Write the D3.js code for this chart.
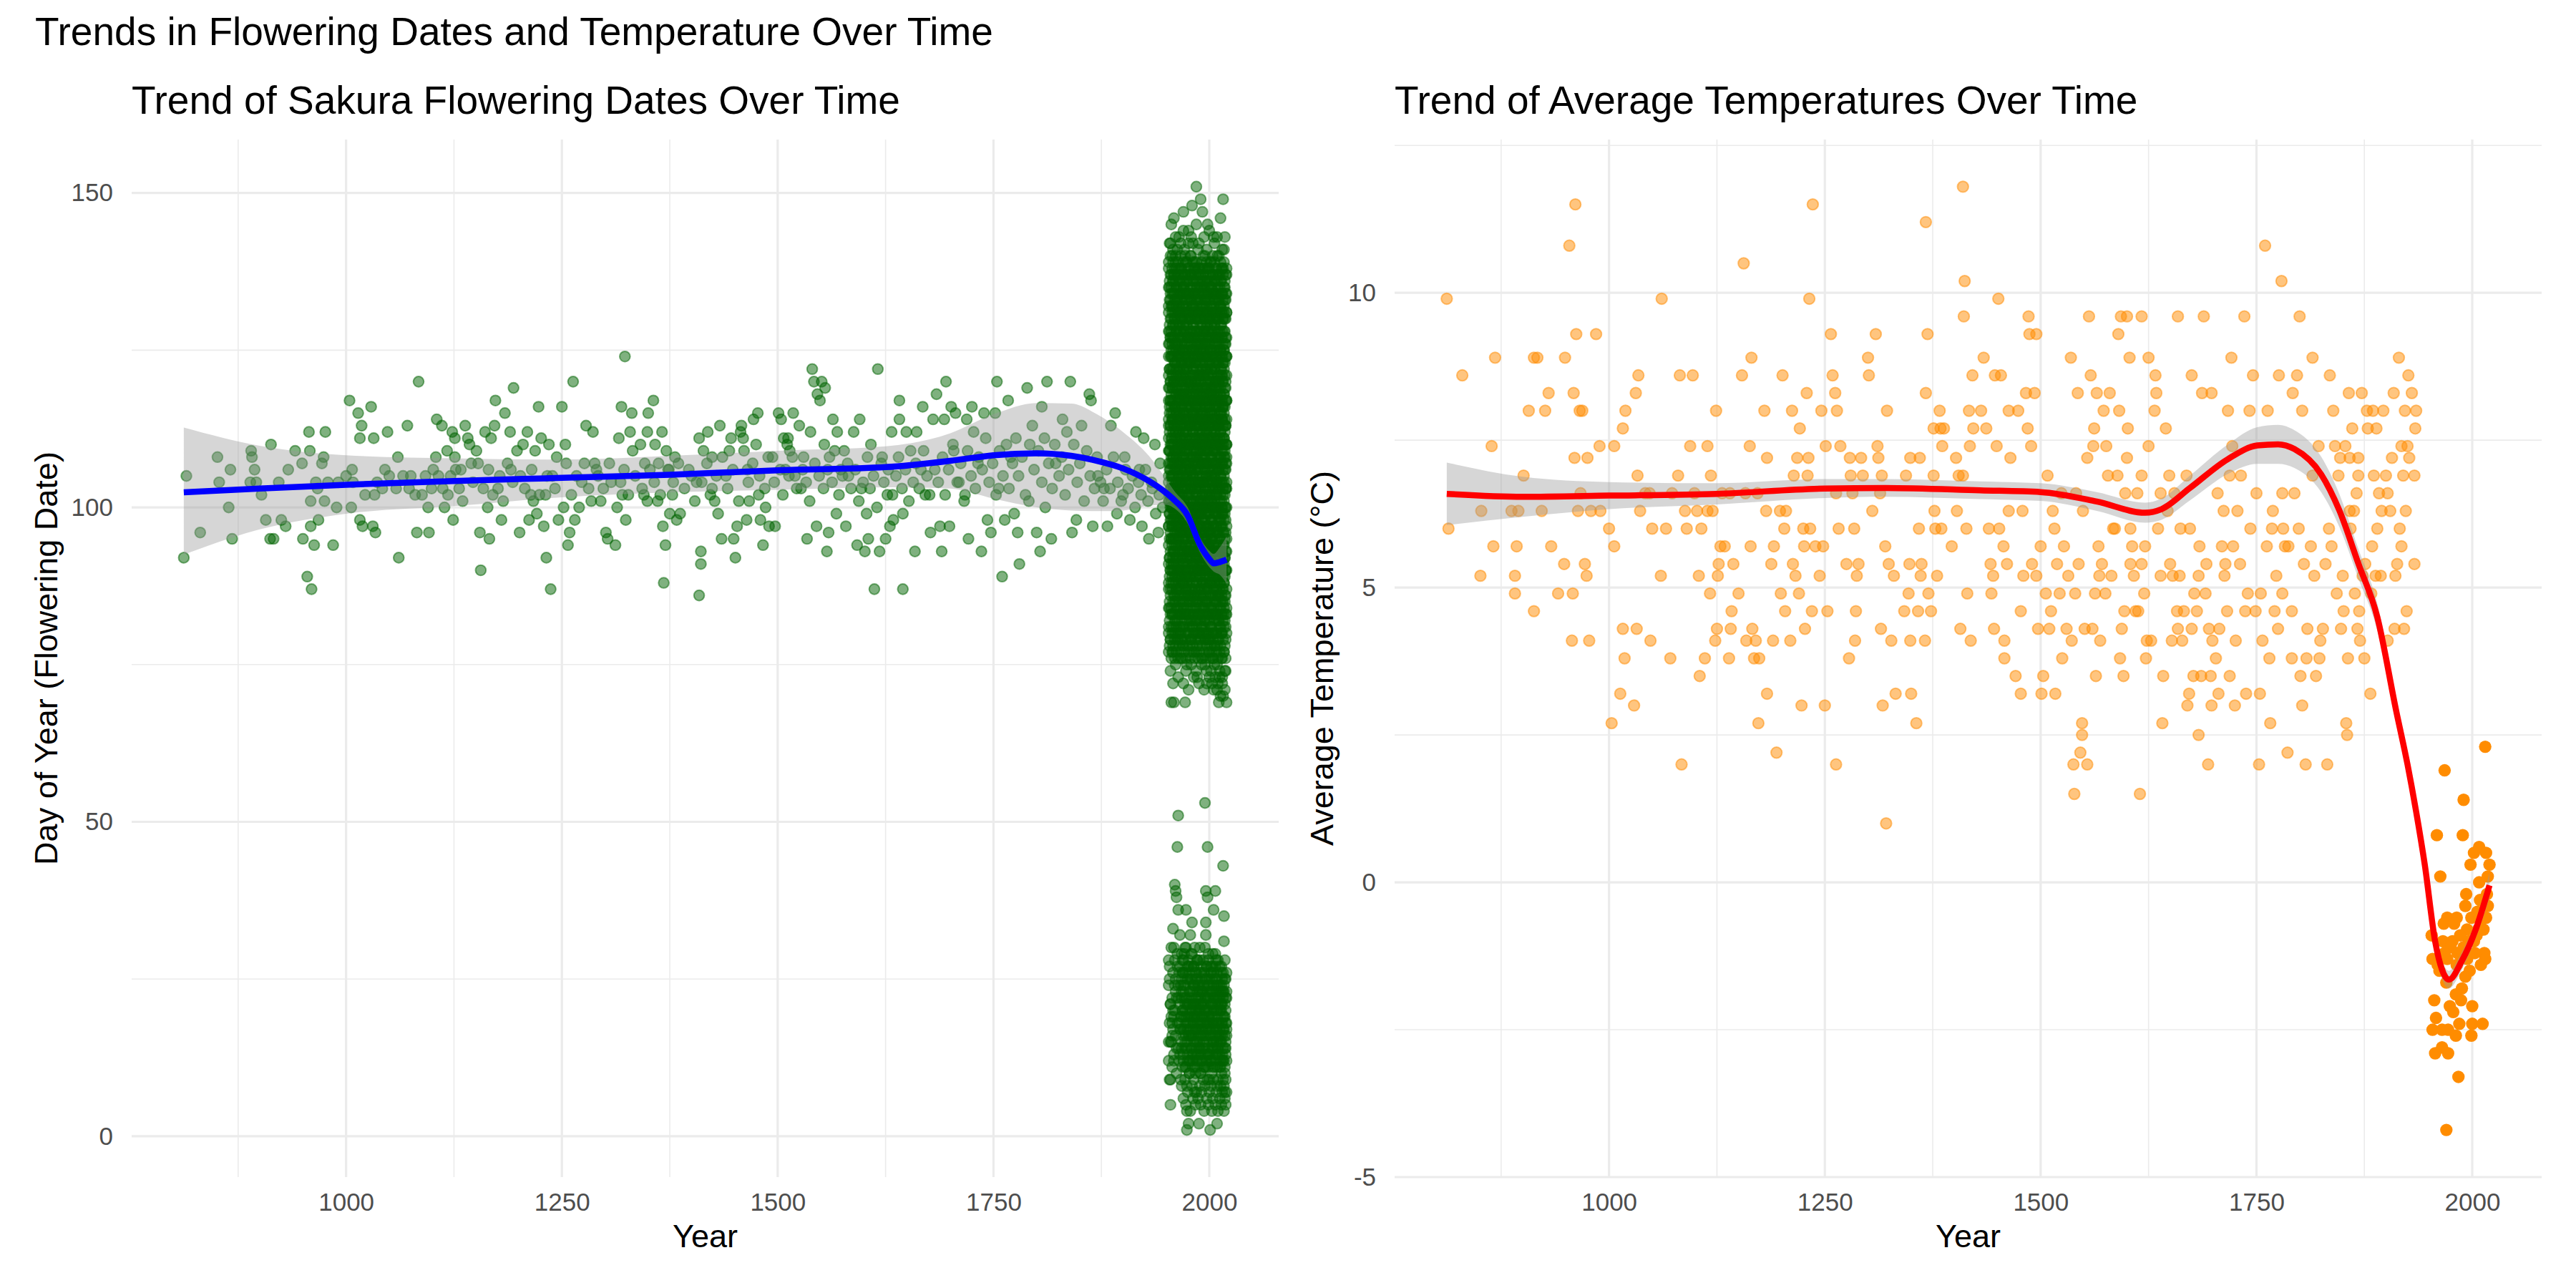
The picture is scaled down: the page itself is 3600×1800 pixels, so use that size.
<!DOCTYPE html>
<html>
<head>
<meta charset="utf-8">
<script src="https://cdn.jsdelivr.net/npm/d3@7"></script>
<style>
  body { margin: 0; background: #fff; }
  svg text { font-family: "Liberation Sans", Arial, Helvetica, sans-serif; }
</style>
</head>
<body>
<div id="chart"></div>
<script>
// ---- data ----

// Kyoto historical flowering day-of-year, [year, doy]
const bloomHist = [
  [812,92],[815,105],[831,96],[851,108],[853,104],[864,100],[866,106],[868,95],[889,104],[890,109],[891,108],[894,106],[896,104],
  [902,102],[907,98],[912,95],[913,110],[916,95],[922,104],[925,98],[930,97],[933,106],[941,109],[949,107],[950,95],[955,89],
  [957,112],[958,109],[959,101],[959,97],[960,87],[963,94],[965,104],[967,103],[968,98],[972,107],[974,108],[975,101],[976,112],
  [979,104],[985,94],[989,100],[991,104],[1000,105],[1004,117],[1006,100],[1007,106],[1014,115],[1016,98],[1016,111],[1018,113],
  [1019,97],[1029,116],[1031,97],[1032,111],[1033,102],[1034,96],[1036,104],[1042,103],[1048,112],[1050,105],[1060,108],[1061,92],
  [1066,105],[1071,113],[1073,103],[1080,102],[1082,96],[1084,120],[1092,105],[1095,100],[1096,96],[1099,103],[1104,108],[1105,114],
  [1107,105],[1111,113],[1114,100],[1117,109],[1118,102],[1123,112],[1124,98],[1126,111],[1126,108],[1127,106],[1131,103],[1133,106],
  [1138,113],[1141,111],[1143,110],[1145,107],[1151,109],[1155,96],[1156,90],[1159,103],[1161,112],[1164,100],[1165,106],[1166,95],
  [1168,111],[1172,113],[1173,117],[1176,103],[1180,98],[1182,101],[1184,115],[1187,107],[1190,112],[1191,106],[1194,119],[1198,109],
  [1201,96],[1202,105],[1205,110],[1210,112],[1212,98],[1214,102],[1217,101],[1219,109],[1221,99],[1223,116],[1226,111],[1229,97],
  [1231,102],[1232,92],[1235,110],[1237,87],[1239,105],[1244,108],[1246,98],[1250,116],[1252,100],[1254,110],[1257,94],[1259,96],
  [1263,120],[1265,98],[1267,105],[1270,100],[1276,107],[1278,113],[1281,103],[1286,112],[1288,107],[1290,106],[1295,101],[1301,96],
  [1303,95],[1307,104],[1312,94],[1314,100],[1316,111],[1319,116],[1320,102],[1322,106],[1323,124],[1324,98],[1329,112],[1331,115],
  [1332,109],[1341,110],[1345,102],[1346,107],[1349,101],[1350,115],[1349,112],[1356,117],[1358,110],[1361,101],[1362,107],[1366,112],
  [1367,97],[1368,88],[1370,94],[1371,109],[1373,106],[1375,99],[1378,102],[1381,108],[1383,98],[1387,99],[1400,105],[1404,101],
  [1409,111],[1409,86],[1411,93],[1411,91],
  [1419,112],[1414,109],[1424,108],[1424,103],[1427,101],[1431,99],[1433,113],[1435,95],[1440,105],[1444,109],[1446,111],[1449,95],
  [1451,92],[1453,97],[1457,112],[1458,113],[1460,111],[1464,98],[1465,106],[1467,101],[1472,114],[1475,110],[1477,115],[1478,102],
  [1480,98],[1483,94],[1486,100],[1490,97],[1494,108],[1497,97],[1501,115],[1504,114],[1507,111],[1509,106],[1511,110],[1512,111],
  [1514,109],[1518,115],[1520,105],[1525,113],[1527,103],[1530,108],[1534,95],[1538,112],[1540,122],[1542,120],[1545,97],[1546,118],
  [1549,117],[1551,120],[1555,119],[1554,110],[1557,93],[1559,96],[1560,108],[1564,114],[1568,99],[1569,112],[1573,106],[1577,109],
  [1579,97],[1582,105],[1588,112],[1592,94],[1595,114],[1597,103],[1601,93],[1603,99],[1605,95],[1608,110],[1612,87],[1616,122],
  [1618,93],[1621,108],[1625,95],[1627,102],[1630,97],[1632,112],[1634,98],[1641,117],[1641,114],[1645,87],[1645,99],[1649,112],
  [1654,109],[1659,93],[1661,112],[1666,106],[1668,116],[1671,102],[1677,96],[1680,114],[1684,118],[1688,97],[1690,93],[1693,114],
  [1695,120],[1699,97],[1701,116],[1704,109],[1706,115],[1710,104],[1717,102],[1719,114],[1721,95],[1725,116],[1727,112],[1732,107],
  [1736,93],[1739,115],[1743,98],[1747,96],[1752,115],[1754,120],[1756,103],[1760,89],[1763,98],[1767,117],[1770,108],[1774,99],
  [1778,96],[1780,91],[1789,119],[1791,101],[1795,113],[1800,96],[1804,93],[1806,116],[1810,100],[1812,120],[1817,95],[1822,107],
  [1830,114],[1835,112],[1839,120],[1841,96],[1846,98],[1852,113],[1861,118],[1863,117],[1865,97],[1871,105],[1878,103],[1882,97],
  [1886,113],[1891,115],[1893,99],[1900,102],[1902,108],[1908,98],[1915,112],[1919,106],[1922,97],[1924,111],[1930,95],[1934,103],
  [1937,110],[1941,96],[1943,107],
  [1008,104],[1022,102],[1045,106],[1058,103],[1075,105],[1088,102],[1101,106],[1112,103],[1121,105],[1135,101],[1147,104],[1153,107],
  [1170,102],[1178,105],[1193,104],[1207,103],[1215,106],[1224,102],[1233,105],[1242,103],[1255,107],[1261,102],[1273,104],[1284,101],
  [1292,105],[1298,103],[1305,107],[1318,104],[1327,102],[1335,105],[1343,103],[1352,106],[1357,104],[1364,102],[1374,106],[1379,104],
  [1385,107],[1392,103],[1397,106],[1406,104],
  [1412,104],[1418,107],[1422,102],[1429,105],[1436,108],[1442,103],[1448,106],[1455,101],[1461,109],[1466,104],[1471,107],[1479,105],
  [1485,103],[1489,108],[1496,104],[1503,106],[1506,102],[1513,105],[1517,108],[1522,103],[1529,106],[1533,104],[1537,101],[1543,107],
  [1548,105],[1553,103],[1558,106],[1563,104],[1566,109],[1571,102],[1575,105],[1581,107],[1585,103],[1590,106],[1594,101],[1599,104],
  [1604,108],[1607,103],[1611,105],[1615,100],[1620,107],[1623,104],[1628,106],[1633,102],[1637,105],[1640,108],[1644,103],[1648,106],
  [1652,101],[1657,104],[1660,107],[1664,103],[1669,109],[1673,105],[1676,102],[1682,106],[1686,104],[1691,108],[1694,102],[1698,106],
  [1703,110],[1708,104],[1712,107],[1716,101],[1720,109],[1724,105],[1729,103],[1733,108],[1737,106],[1741,111],[1745,104],[1749,107],
  [1753,102],[1757,109],[1761,105],[1765,110],[1768,103],[1772,107],[1776,111],[1779,105],[1783,108],[1787,102],[1792,110],[1797,106],
  [1802,109],[1806,104],[1809,111],[1814,107],[1818,103],[1821,110],[1826,105],[1829,108],[1833,102],[1837,106],[1843,110],[1847,104],
  [1850,107],[1855,101],[1858,109],[1862,105],[1867,103],[1870,108],[1874,104],[1877,101],[1881,106],[1885,103],[1889,108],[1894,104],
  [1898,101],[1903,106],[1906,103],[1911,105],[1914,100],[1918,104],[1921,102],[1926,106],[1929,101],[1933,104],[1938,99],[1942,102],
  [1946,100]
];

// modern multi-site flowering day-of-year, one row per year: [year, doy, doy, ...]
const bloomModern = [
  [1953,97,105,113,119,126,132,88,139,109,81,28,15],
  [1954,92,101,109,115,122,128,135,84,99,142,25,9],
  [1955,90,98,106,113,120,127,133,79,87,117,21,15,5],
  [1956,95,103,110,116,124,130,137,69,100,145,19],
  [1957,89,97,105,111,119,126,132,140,83,114,18,16],
  [1958,93,100,108,114,121,129,136,77,91,103,20,33],
  [1959,91,99,107,113,120,127,134,69,95,146,30,12],
  [1960,94,102,109,116,123,130,138,85,98,111,24,40],
  [1961,88,96,104,112,118,125,131,139,80,107,23,39],
  [1962,92,100,108,115,122,128,135,87,97,120,38,14],
  [1963,90,98,106,113,119,126,133,141,84,102,46,27],
  [1964,95,103,110,117,124,131,137,79,89,114,51,36,22],
  [1965,89,97,105,112,118,125,132,86,101,143,18,26],
  [1966,93,101,109,115,122,129,136,83,96,106,32,13],
  [1967,91,99,107,114,120,127,134,140,81,110,17,24],
  [1968,94,102,110,116,123,130,138,88,99,104,22,29],
  [1969,88,96,104,111,118,125,131,78,92,121,20,11,26],
  [1970,92,100,108,114,121,128,135,85,97,147,16,23],
  [1971,90,98,106,113,119,126,133,141,83,109,29,19],
  [1972,95,103,110,117,124,131,137,69,89,115,30,14,21],
  [1973,89,97,105,112,118,125,132,87,100,139,36,18],
  [1974,93,101,109,115,122,129,136,75,96,107,21,15,8,4,1],
  [1975,91,99,107,114,120,127,134,84,92,123,25,17],
  [1976,94,102,110,116,123,130,138,86,98,144,2,19,28],
  [1977,88,96,104,111,118,125,131,81,93,113,23,12],
  [1978,92,100,108,114,121,128,135,140,85,105,32,20],
  [1979,90,98,106,113,119,126,133,79,95,117,16,27],
  [1980,95,103,110,117,124,131,137,87,99,148,34,22,13],
  [1981,89,97,105,112,118,125,132,82,91,142,18,24],
  [1982,93,101,109,115,122,129,136,77,96,119,21,15],
  [1983,91,99,107,114,120,127,134,139,86,103,30,7,19],
  [1984,94,102,110,116,123,130,138,84,98,108,25,17],
  [1985,88,96,104,111,118,125,131,80,92,151,20,12],
  [1986,92,100,108,114,121,128,135,73,97,115,23,28],
  [1987,90,98,106,113,119,126,133,141,85,101,16,21],
  [1988,95,103,110,117,124,131,137,83,90,112,20,2,14],
  [1989,89,97,105,112,118,125,132,78,94,121,26,18],
  [1990,93,101,109,115,122,129,136,86,99,149,22,13],
  [1991,91,99,107,114,120,127,134,81,96,104,19,25],
  [1992,94,102,110,116,123,130,138,76,88,147,17,23],
  [1993,88,96,104,111,118,125,131,140,84,107,21,15],
  [1994,92,100,108,114,121,128,135,82,95,113,24,11],
  [1995,90,98,106,113,119,126,133,75,87,110,53,20,30],
  [1996,95,103,110,117,124,131,137,80,91,122,39,34,32,16],
  [1997,89,97,105,112,118,125,132,72,85,100,18,27],
  [1998,93,101,109,115,122,129,136,79,94,145,46,38,22],
  [1999,91,99,107,114,120,127,134,83,97,105,19,13],
  [2000,94,102,110,116,123,130,138,77,88,115,25,12],
  [2001,88,96,104,111,118,125,131,139,81,92,1,17],
  [2002,92,100,108,114,121,128,135,74,86,119,21,26],
  [2003,90,98,106,113,119,126,133,80,95,102,15,23],
  [2004,95,103,110,117,124,131,137,76,89,109,18,29],
  [2005,89,97,105,112,118,125,132,71,84,143,36,20],
  [2006,93,101,109,115,122,129,136,78,91,111,14,22],
  [2007,91,99,107,114,120,127,134,73,85,117,39,29,27],
  [2008,94,102,110,116,123,130,138,80,87,104,17,24],
  [2009,88,96,104,111,118,125,131,75,83,140,2,19],
  [2010,92,100,108,114,121,128,135,72,86,113,21,13],
  [2011,90,98,106,113,119,126,133,69,82,120,16,22],
  [2012,95,103,110,117,124,131,137,74,88,107,20,11],
  [2013,89,97,105,112,118,125,132,70,84,146,15,23],
  [2014,93,101,109,115,122,129,136,76,80,99,18,26],
  [2015,91,99,107,114,120,127,134,73,85,116,21,12],
  [2016,94,102,110,116,123,130,138,70,87,149,43,23],
  [2017,88,96,104,111,118,125,131,77,83,141,35,31],
  [2018,92,100,108,114,121,128,135,71,86,112,25,19,10,7],
  [2019,90,98,106,113,119,126,133,74,81,103,14,20],
  [2020,95,103,110,117,124,131,137,69,84,108,22,17]
];

// the remaining (overplotted) sites of the same years, [year, doy, doy, ...]
const bloomModernCore = [
  [1953,77,80,84,87,91,94,97,101,104,107,111,114,117,121,124,128,131,135,138,12,24],
  [1954,78,82,85,89,92,95,99,102,106,109,112,116,119,122,126,129,133,136,18,27],
  [1955,79,83,86,90,93,96,100,103,107,110,113,117,120,124,127,130,134,137,140,9,21],
  [1956,76,81,84,88,91,95,98,101,105,108,111,115,118,122,125,128,132,135,15,30],
  [1957,77,80,83,87,90,94,97,100,104,107,110,114,117,121,124,127,131,134,138,22,11],
  [1958,78,81,85,88,92,95,98,102,105,108,112,115,119,122,125,129,132,136,139,26,17],
  [1959,80,83,86,90,93,97,100,103,107,110,114,117,120,124,127,131,134,137,13,19],
  [1960,76,79,82,86,89,93,96,99,103,106,109,113,116,120,123,126,130,133,137,20,28],
  [1961,78,82,85,89,92,95,99,102,106,109,112,116,119,123,126,129,133,136,140,16,25],
  [1962,77,81,84,87,91,94,98,101,104,108,111,115,118,121,125,128,132,135,138,10,22],
  [1963,79,82,86,89,92,96,99,103,106,109,113,116,120,123,126,130,133,137,18,29],
  [1964,76,80,83,87,90,93,97,100,104,107,110,114,117,121,124,127,131,134,139,14,24],
  [1965,78,81,85,88,91,95,98,102,105,108,112,115,118,122,125,129,132,136,21,12],
  [1966,80,83,87,90,94,97,100,104,107,111,114,117,121,124,128,131,134,138,27,17],
  [1967,77,80,84,87,90,94,97,101,104,107,111,114,118,121,124,128,131,135,138,19,9],
  [1968,79,82,85,89,92,96,99,102,106,109,113,116,119,123,126,130,133,136,23,15],
  [1969,76,79,83,86,90,93,96,100,103,107,110,113,117,120,124,127,130,134,137,28,20],
  [1970,78,81,84,88,91,95,98,101,105,108,112,115,118,122,125,129,132,135,139,13,26],
  [1971,77,81,84,88,91,94,98,101,105,108,111,115,118,122,125,128,132,135,17,22],
  [1972,79,83,86,89,93,96,100,103,106,110,113,117,120,123,127,130,134,137,140,24,11],
  [1973,76,80,83,87,90,94,97,100,104,107,111,114,117,121,124,128,131,134,19,30],
  [1974,78,82,85,88,92,95,99,102,105,109,112,116,119,122,126,129,133,136,139,25,14],
  [1975,80,83,86,90,93,97,100,103,107,110,114,117,120,124,127,131,134,138,12,21],
  [1976,77,80,83,87,90,93,97,100,104,107,110,114,117,120,124,127,131,134,137,16,27],
  [1977,78,82,85,89,92,96,99,102,106,109,113,116,119,123,126,130,133,136,22,10],
  [1978,76,79,83,86,89,93,96,100,103,106,110,113,117,120,123,127,130,134,137,18,25],
  [1979,79,82,86,89,93,96,99,103,106,110,113,116,120,123,127,130,133,137,140,14,29],
  [1980,77,81,84,87,91,94,98,101,104,108,111,115,118,121,125,128,132,135,20,16],
  [1981,78,81,85,88,91,95,98,102,105,108,112,115,119,122,125,129,132,136,139,23,12],
  [1982,80,83,86,90,93,97,100,104,107,110,114,117,121,124,127,131,134,138,27,19],
  [1983,76,80,83,87,90,93,97,100,104,107,111,114,117,121,124,128,131,134,138,11,24],
  [1984,79,82,85,89,92,96,99,103,106,109,113,116,120,123,126,130,133,137,17,21],
  [1985,77,81,84,88,91,94,98,101,105,108,111,115,118,122,125,128,132,135,139,26,14],
  [1986,78,82,85,89,92,95,99,102,106,109,113,116,119,123,126,130,133,136,19,28],
  [1987,76,79,83,86,90,93,96,100,103,107,110,113,117,120,124,127,130,134,137,13,22],
  [1988,80,83,87,90,93,97,100,104,107,110,114,117,121,124,127,131,134,138,24,17],
  [1989,77,80,84,87,91,94,97,101,104,108,111,114,118,121,125,128,131,135,138,15,30],
  [1990,79,82,86,89,92,96,99,103,106,109,113,116,120,123,126,130,133,137,21,10],
  [1991,76,80,83,87,90,94,97,100,104,107,111,114,117,121,124,128,131,135,139,18,26],
  [1992,78,81,85,88,92,95,98,102,105,109,112,115,119,122,126,129,132,136,12,23],
  [1993,80,83,86,90,93,97,100,104,107,110,114,117,121,124,127,131,134,137,28,16],
  [1994,77,81,84,87,91,94,98,101,104,108,111,115,118,121,125,128,132,135,138,20,14],
  [1995,79,82,85,89,92,96,99,102,106,109,113,116,119,123,126,130,133,136,140,25,19],
  [1996,76,79,83,86,90,93,96,100,103,107,110,113,117,120,124,127,130,134,22,11],
  [1997,78,82,85,88,92,95,99,102,105,109,112,116,119,122,126,129,133,136,139,17,27],
  [1998,80,83,87,90,94,97,100,104,107,111,114,117,121,124,128,131,134,138,13,24],
  [1999,77,80,84,87,90,94,97,101,104,107,111,114,118,121,124,128,131,135,138,29,20],
  [2000,79,82,85,89,92,96,99,102,106,109,113,116,119,123,126,130,133,136,16,9],
  [2001,76,79,83,86,90,93,96,100,103,107,110,113,117,120,124,127,130,134,137,23,18],
  [2002,78,81,84,88,91,95,98,101,105,108,112,115,118,122,125,129,132,135,139,12,26],
  [2003,77,81,84,88,91,94,98,101,105,108,111,115,118,122,125,128,132,135,19,21],
  [2004,79,83,86,89,93,96,100,103,106,110,113,117,120,123,127,130,134,137,140,27,14],
  [2005,76,80,83,87,90,94,97,100,104,107,111,114,117,121,124,128,131,134,15,24],
  [2006,78,82,85,88,92,95,99,102,105,109,112,116,119,122,126,129,133,136,139,20,11],
  [2007,80,83,86,90,93,97,100,103,107,110,114,117,120,124,127,131,134,138,17,25],
  [2008,77,80,83,87,90,93,97,100,104,107,110,114,117,120,124,127,131,134,137,22,13],
  [2009,78,82,85,89,92,96,99,102,106,109,113,116,119,123,126,130,133,136,26,16],
  [2010,76,79,83,86,89,93,96,100,103,106,110,113,117,120,123,127,130,134,137,14,28],
  [2011,79,82,86,89,93,96,99,103,106,110,113,116,120,123,127,130,133,137,140,18,23],
  [2012,77,81,84,87,91,94,98,101,104,108,111,115,118,121,125,128,132,135,24,15],
  [2013,78,81,85,88,91,95,98,102,105,108,112,115,119,122,125,129,132,136,139,11,20],
  [2014,80,83,86,90,93,97,100,104,107,110,114,117,121,124,127,131,134,138,21,27],
  [2015,76,80,83,87,90,93,97,100,104,107,111,114,117,121,124,128,131,134,138,16,25],
  [2016,79,82,85,89,92,96,99,103,106,109,113,116,120,123,126,130,133,137,19,12],
  [2017,77,81,84,88,91,94,98,101,105,108,111,115,118,122,125,128,132,135,139,23,17],
  [2018,78,82,85,89,92,95,99,102,106,109,113,116,119,123,126,130,133,136,28,14],
  [2019,76,79,83,86,90,93,96,100,103,107,110,113,117,120,124,127,130,134,137,13,22],
  [2020,80,83,87,90,93,97,100,104,107,110,114,117,121,124,127,131,134,138,18,26]
];

// ragged edges of the main block and the dense part of the early (southern) group, [year, doy, ...]
const bloomModernEdge = [
  [1955,74,142],[1958,72,141],[1961,75,143],[1964,73],[1967,76,142],[1970,72,144],[1973,74],[1976,71,142],
  [1979,75,143],[1982,73],[1985,74,145],[1988,72,142],[1991,75],[1994,71,143],[1997,74,141],[2000,73,144],
  [2003,72],[2006,75,142],[2009,71,143],[2012,73],[2015,72,141],[2018,74,143],
  [1968,8,14,19,25],[1970,6,12,17,24,28],[1972,9,15,20,26],[1973,5,11,16,22],[1975,7,13,18,27],[1977,10,16,21,26],
  [1978,4,12,17,23],[1980,8,14,19,25,29],[1981,6,11,16,21],[1982,9,13,18,24,27],[1984,5,10,15,20,26],[1985,7,13,17,22],
  [1986,11,15,19,25],[1987,6,12,18,24],[1989,8,14,20,23,28],[1990,5,10,16,21],[1991,7,12,17,23,27],[1993,9,14,19,24],
  [1994,4,11,16,21,26],[1995,8,13,18,22],[1997,6,12,15,20,25],[1998,9,14,18,23],[1999,5,11,17,22,28],[2000,7,13,19,24],
  [2002,8,12,16,21,27],[2003,4,10,14,19,25],[2004,6,11,17,23],[2005,9,15,18,22,26],[2007,5,12,16,21],[2008,7,13,18,23,28],
  [2009,8,11,15,20,25],[2010,4,9,14,18,24],[2012,6,13,17,22,27],[2013,8,12,16,21],[2014,5,10,15,20,24],[2015,7,13,18,23],
  [2016,9,14,17,22,26],[2017,4,8,12,19,24],[2018,6,11,16,21],[2019,5,9,15,18,25],[2020,7,12,16,23]
];

// smooth fit for flowering dates (year, fit, lower, upper)
const bloomFitYear = [812, 900, 1000, 1125, 1250, 1375, 1500, 1625, 1700, 1750, 1800, 1840, 1870, 1900, 1930, 1950, 1960, 1975, 1989, 2000, 2005, 2012, 2020];
const bloomFit     = [102.4, 103.0, 103.6, 104.2, 104.7, 105.2, 105.9, 106.4, 107.4, 108.3, 108.6, 108.2, 107.4, 106.2, 104.2, 102.3, 101.1, 98.7, 94.1, 91.8, 91.1, 91.3, 91.7];
const bloomLo      = [92.5, 96.5, 99.0, 100.2, 101.6, 102.4, 102.8, 103.2, 103.0, 101.4, 100.0, 99.5, 99.4, 99.5, 100.3, 100.4, 99.8, 97.4, 92.9, 90.5, 89.8, 89.3, 87.9];
const bloomHi      = [112.7, 109.8, 108.3, 107.8, 107.6, 108.2, 109.0, 109.7, 111.8, 114.8, 116.6, 116.5, 114.8, 112.0, 108.2, 104.5, 102.5, 100.0, 95.3, 93.1, 92.6, 93.6, 95.4];

// historical average temperature, [year, °C]
const tempHist = [
  [812,9.9],[814,6.0],[830,8.6],[851,5.2],[852,6.3],[864,7.4],[866,5.7],[868,8.9],[887,6.3],[891,5.2],[891,4.9],[893,5.7],[895,6.3],
  [901,6.9],[907,8.0],[913,4.6],[913,8.9],[917,8.9],[922,6.3],[926,8.0],[930,8.3],[933,5.7],[941,4.9],[948,5.4],[949,8.9],[954,10.8],
  [957,4.1],[958,4.9],[959,8.3],[960,7.2],[961,11.5],[962,9.3],[964,6.3],[966,8.0],[967,6.6],[969,8.0],[972,5.4],[974,5.2],[975,7.2],
  [977,4.1],[979,6.3],[985,9.3],[989,7.4],[990,6.3],[1000,6.0],[1003,2.7],[1006,7.4],[1006,5.7],[1013,3.2],[1016,4.3],[1016,7.7],
  [1018,3.8],[1019,8.0],[1029,3.0],[1031,8.3],[1032,4.3],[1033,6.9],[1034,8.6],[1036,6.3],[1042,6.6],[1047,6.6],[1048,4.1],[1050,6.0],
  [1060,5.2],[1061,9.9],[1066,6.0],[1071,3.8],[1073,6.6],[1080,6.9],[1082,8.6],[1084,2.0],[1088,6.3],[1090,6.0],[1094,7.4],[1097,8.6],
  [1099,6.6],[1102,6.3],[1104,5.2],[1105,3.5],[1107,6.0],[1111,3.8],[1114,7.4],[1114,6.3],[1117,4.9],[1118,6.9],[1120,6.3],[1123,4.1],
  [1124,8.0],[1125,4.3],[1126,5.2],[1127,5.4],[1129,5.7],[1131,6.6],[1134,5.7],[1139,3.8],[1140,6.6],[1141,4.3],[1142,4.6],[1144,5.4],
  [1150,4.9],[1154,8.6],[1156,10.5],[1158,6.6],[1159,4.1],[1163,7.4],[1164,5.7],[1165,8.9],[1166,4.3],[1168,3.8],[1170,4.1],[1172,6.6],
  [1173,2.7],[1174,3.8],[1180,8.0],[1182,6.3],[1183,7.2],[1183,3.2],[1188,5.4],[1190,4.1],[1191,5.7],[1194,2.2],[1198,6.3],[1199,4.9],
  [1201,8.6],[1203,6.0],[1204,4.6],[1205,6.3],[1210,4.1],[1212,8.0],[1213,5.4],[1214,6.9],[1216,5.2],[1218,7.2],[1220,4.9],[1221,7.7],
  [1223,3.0],[1225,6.0],[1226,5.7],[1227,4.3],[1229,8.3],[1230,6.9],[1231,7.2],[1232,9.9],[1233,6.0],[1235,4.6],[1236,11.5],[1239,5.7],
  [1244,5.2],[1246,8.0],[1248,5.7],[1250,3.0],[1251,7.4],[1253,4.6],[1257,9.3],[1259,8.6],[1262,8.3],[1263,2.0],[1263,6.6],[1264,8.0],
  [1266,6.0],[1268,7.4],[1275,5.4],[1278,3.8],[1279,7.2],[1280,6.9],[1282,6.6],[1284,6.0],[1285,4.1],[1286,4.6],[1287,5.2],[1289,5.4],
  [1292,7.2],[1294,6.9],[1300,8.9],[1301,8.6],[1305,6.3],[1309,9.3],[1311,7.4],[1312,7.2],[1315,4.3],[1314,6.6],[1316,6.9],[1317,3.0],
  [1320,5.7],[1321,1.0],[1322,8.0],[1324,5.4],[1327,4.1],[1330,5.2],[1332,3.2],[1342,4.6],[1344,6.9],[1347,4.9],[1348,5.4],[1349,4.1],
  [1349,7.2],[1350,3.2],[1356,2.7],[1358,4.6],[1359,6.0],[1360,7.2],[1361,5.2],[1362,5.4],[1366,4.1],[1367,8.3],[1367,11.2],[1369,9.3],
  [1370,4.9],[1373,4.6],[1376,7.7],[1376,6.9],[1377,6.3],[1378,6.0],[1380,5.2],[1383,8.0],[1384,7.7],[1385,6.0],[1386,7.4],[1388,7.7],
  [1397,5.7],[1402,7.2],[1403,6.3],[1405,6.9],[1407,4.3],[1410,11.8],[1410,6.9],[1411,9.6],[1412,10.2],[1414,6.0],[1415,4.9],[1417,8.0],
  [1418,7.4],[1419,4.1],[1421,8.6],[1422,7.7],
  [1431,8.0],[1434,8.9],[1437,7.7],[1440,6.0],[1442,5.4],[1443,4.9],[1445,5.2],[1446,4.3],[1447,8.6],[1449,7.4],[1451,9.9],[1452,6.0],
  [1454,8.6],[1457,5.7],[1458,4.1],[1458,3.8],[1461,5.4],[1463,8.0],[1463,6.3],[1465,7.2],[1471,3.5],[1474,8.0],[1477,3.2],[1477,4.6],
  [1479,6.3],[1480,5.2],[1483,8.3],[1485,7.7],[1486,9.6],[1487,9.3],[1489,7.4],[1490,5.4],[1493,8.3],[1495,9.3],[1495,5.2],[1497,4.3],
  [1500,5.7],[1501,3.2],[1503,3.5],[1506,4.9],[1508,6.9],[1510,4.3],[1512,4.6],[1514,6.3],[1516,6.0],[1517,3.2],[1519,5.4],[1522,4.9],
  [1524,6.6],[1525,3.8],[1527,5.7],[1530,4.3],[1532,5.2],[1535,8.9],[1536,4.1],[1538,2.0],[1539,1.5],[1540,4.9],[1541,6.6],[1543,8.3],
  [1544,5.4],[1546,2.2],[1548,2.7],[1548,2.5],[1549,6.3],[1551,4.3],[1554,2.0],[1554,7.2],[1556,9.6],[1558,8.6],[1560,4.3],[1561,7.4],
  [1562,7.7],[1563,4.9],[1564,3.5],[1565,8.3],[1567,5.7],[1568,5.2],[1569,4.1],[1571,5.4],[1573,8.0],[1575,4.9],[1576,7.4],[1578,6.9],
  [1580,8.3],[1582,5.2],[1584,6.0],[1586,6.0],[1589,6.9],[1590,9.3],[1591,8.0],[1592,3.8],[1593,9.6],[1594,4.3],[1596,3.5],[1597,4.6],
  [1598,6.6],[1600,9.6],[1600,7.2],[1601,7.7],[1603,8.9],[1604,6.0],[1604,5.4],[1606,5.7],[1608,5.2],[1610,4.6],[1612,6.6],[1613,4.6],
  [1615,1.5],[1617,9.6],[1617,6.9],[1617,5.4],[1620,4.9],[1621,5.7],[1622,3.8],[1623,4.1],[1625,8.9],[1625,7.4],[1628,4.1],[1632,8.0],
  [1633,8.6],[1634,8.3],[1636,6.0],[1639,5.2],[1639,6.6],[1641,2.7],[1642,3.5],[1645,7.7],[1647,6.3],[1649,6.9],[1650,5.4],[1652,4.1],
  [1653,5.2],[1655,6.6],[1658,4.6],[1659,9.6],[1659,4.3],[1661,5.2],[1662,6.0],[1664,4.1],[1666,4.6],[1669,6.9],[1670,3.0],[1672,3.2],
  [1673,6.0],[1675,4.3],[1675,8.6],[1677,3.5],[1678,4.9],[1681,4.6],[1683,5.2],[1683,2.5],[1684,5.7],[1686,3.5],[1687,8.3],[1689,9.6],
  [1691,4.9],[1692,5.4],[1694,2.0],[1695,4.3],[1697,3.5],[1698,3.0],[1698,8.3],[1699,4.1],[1703,3.8],[1705,6.6],[1706,3.2],[1707,4.3],
  [1710,5.7],[1712,6.3],[1713,5.2],[1714,5.4],[1716,4.6],[1717,8.0],[1719,6.9],[1719,3.5],[1721,8.9],[1722,7.4],[1723,5.7],[1725,3.0],
  [1726,4.1],[1728,6.3],[1731,5.4],[1732,6.9],[1736,9.6],[1737,4.6],[1738,3.2],[1740,4.9],[1742,8.0],[1743,6.0],[1746,8.6],[1749,4.6],
  [1750,6.6],[1754,3.2],[1753,2.0],[1755,4.9],[1757,4.1],[1760,10.8],[1762,5.7],[1763,8.0],[1765,3.8],[1766,2.7],[1768,6.0],[1769,6.3],
  [1771,4.6],[1773,5.2],[1775,4.3],[1776,8.6],[1779,10.2],[1780,4.9],[1780,6.6],[1781,6.0],[1783,5.7],[1786,2.2],[1787,5.7],[1791,3.8],
  [1791,4.6],[1792,8.3],[1794,6.6],[1797,8.6],[1799,6.0],[1800,9.6],[1801,3.5],[1803,3.0],[1803,8.0],[1805,5.4],[1807,2.0],[1808,3.8],
  [1809,4.3],[1813,5.7],[1815,8.9],[1815,6.9],[1817,5.2],[1819,3.5],[1822,7.4],[1823,3.8],[1824,4.1],[1827,4.3],[1830,5.4],[1832,2.0],
  [1834,6.0],[1835,8.6],[1837,5.7],[1839,8.0],[1841,7.4],[1843,4.9],[1845,6.9],[1847,7.2],[1848,4.3],[1850,5.2],[1851,4.6],[1853,7.4],
  [1854,2.7],[1855,2.5],[1856,3.8],[1857,8.3],[1858,6.3],[1858,7.2],[1859,6.0],[1861,7.7],[1863,6.3],[1864,4.9],[1866,6.6],[1867,4.3],
  [1868,6.9],[1868,7.2],[1869,4.6],[1870,4.1],[1872,8.3],[1873,5.2],[1875,3.8],[1876,5.4],[1878,8.0],[1879,7.7],[1882,3.2],[1883,4.9],
  [1884,5.7],[1885,8.0],[1886,6.9],[1888,5.2],[1889,7.7],[1890,6.0],[1892,6.6],[1894,5.2],[1895,6.3],[1897,8.0],[1900,6.9],[1902,4.1],
  [1902,6.6],[1905,6.3],[1907,7.2],[1909,8.3],[1910,4.3],[1911,5.2],[1913,5.4],[1915,8.9],[1916,6.0],[1918,7.4],[1918,5.7],[1920,6.9],
  [1921,4.3],[1922,8.0],[1923,6.3],[1924,4.6],[1925,7.4],[1926,8.6],[1927,7.2],[1930,8.3],[1933,5.4],[1934,7.7],[1935,8.0],[1933,6.9]
];

// modern average temperature (heavily overplotted), [year, °C]
const tempModern = [
  [1968,1.9],[1990,1.4],[1959,0.8],[1989,0.8],[2008,0.6],[2016,0.5],[2002,0.5],[1998,0.3],[1963,0.1],[2008,0.0],[2018,0.1],[2015,2.3],
  [1993,-0.2],[1992,-0.4],[2018,-0.4],[2011,-0.6],[1971,-0.6],[1982,-0.6],[1967,-0.7],[1994,-0.8],[2007,-0.8],[1953,-0.9],[1966,-1.0],
  [1977,-1.0],[1996,-1.0],[2005,-0.9],[2014,-1.2],[1954,-1.3],[1960,-1.4],[1971,-1.3],[1982,-1.4],[1994,-1.3],[1997,-1.5],[2010,-1.4],
  [2015,-1.3],[1970,-1.7],[1988,-1.8],[1981,-1.9],[1956,-2.0],[1974,-2.1],[2000,-2.1],[1958,-2.3],[1954,-2.5],[1965,-2.5],[1972,-2.5],
  [1985,-2.4],[1981,-2.6],[1999,-2.6],[2000,-2.4],[2012,-2.4],[1957,-2.9],[1965,-2.8],[1972,-2.9],[1984,-3.3],[1970,-4.2],
  [1975,-1.1],[1979,-0.7],[1983,-1.2],[1986,-0.9],[1990,-1.1],[1992,-1.6],[1995,-1.2],[1999,-0.6],[2002,-1.0],[2006,-0.5],[2009,-0.3],
  [2013,-0.8],[2017,-0.2],[2020,0.3],[1962,-1.5],[1968,-1.2],[1978,-2.2],[1987,-2.0],[2003,-1.2],[2016,-0.6]
];

// smooth fit for temperature (year, fit, lower, upper)
const tempFitYear = [812, 900, 1000, 1125, 1250, 1320, 1430, 1500, 1565, 1621, 1640, 1673, 1717, 1751, 1775, 1794, 1825, 1846, 1868, 1890, 1912, 1925, 1935, 1945, 1957, 1973, 1988, 2004, 2020];
const tempFit = [6.59, 6.54, 6.56, 6.59, 6.68, 6.69, 6.65, 6.62, 6.46, 6.27, 6.33, 6.69, 7.18, 7.41, 7.43, 7.35, 6.92, 6.31, 5.41, 4.50, 2.90, 2.00, 1.20, 0.30, -1.00, -1.65, -1.33, -0.80, -0.05];
const tempLo  = [6.06, 6.20, 6.33, 6.41, 6.52, 6.54, 6.50, 6.47, 6.30, 6.10, 6.15, 6.48, 6.93, 7.10, 7.10, 7.03, 6.62, 6.03, 5.16, 4.27, 2.68, 1.79, 1.00, 0.12, -1.16, -1.80, -1.48, -0.95, -0.27];
const tempHi  = [7.12, 6.88, 6.79, 6.77, 6.84, 6.84, 6.80, 6.77, 6.62, 6.44, 6.51, 6.90, 7.43, 7.72, 7.76, 7.67, 7.22, 6.59, 5.66, 4.73, 3.12, 2.21, 1.40, 0.48, -0.84, -1.50, -1.18, -0.65, 0.17];

// axis breaks
const yearTicks = [1000, 1250, 1500, 1750, 2000];
const yearMinor = [875, 1125, 1375, 1625, 1875];
const doyTicks = [0, 50, 100, 150];
const doyMinor = [25, 75, 125];
const tempTicks = [-5, 0, 5, 10];
const tempMinor = [-2.5, 2.5, 7.5, 12.5];

// ---- drawing ----
const width = 3600, height = 1800;
const plotTop = 195, plotBottom = 1645;

const svg = d3.select('#chart')
  .append('svg')
  .attr('width', width)
  .attr('height', height)
  .style('background', '#fff');

svg.append('text')
  .attr('x', 49).attr('y', 63)
  .style('font-size', '55px')
  .style('fill', '#000')
  .text('Trends in Flowering Dates and Temperature Over Time');

// ggplot-like 5% expansion of a continuous range
function expand(ext) {
  const pad = (ext[1] - ext[0]) * 0.05;
  return [ext[0] - pad, ext[1] + pad];
}

function panel(opts) {
  const x = d3.scaleLinear().domain(expand(opts.xExtent)).range([opts.left, opts.right]);
  const y = d3.scaleLinear().domain(expand(opts.yExtent)).range([plotBottom, plotTop]);
  const g = svg.append('g');

  // grid
  const grid = g.append('g');
  grid.selectAll('.xminor').data(yearMinor).enter().append('line')
    .attr('x1', d => x(d)).attr('x2', d => x(d)).attr('y1', plotTop).attr('y2', plotBottom)
    .style('stroke', '#ebebeb').style('stroke-width', 1.6);
  grid.selectAll('.yminor').data(opts.yMinor).enter().append('line')
    .attr('y1', d => y(d)).attr('y2', d => y(d)).attr('x1', opts.left).attr('x2', opts.right)
    .style('stroke', '#ebebeb').style('stroke-width', 1.6);
  grid.selectAll('.xmajor').data(yearTicks).enter().append('line')
    .attr('x1', d => x(d)).attr('x2', d => x(d)).attr('y1', plotTop).attr('y2', plotBottom)
    .style('stroke', '#ebebeb').style('stroke-width', 3.2);
  grid.selectAll('.ymajor').data(opts.yTicks).enter().append('line')
    .attr('y1', d => y(d)).attr('y2', d => y(d)).attr('x1', opts.left).attr('x2', opts.right)
    .style('stroke', '#ebebeb').style('stroke-width', 3.2);

  // axes (labels only)
  const xAxis = g.append('g')
    .attr('transform', `translate(0, ${plotBottom})`)
    .call(d3.axisBottom(x).tickValues(yearTicks).tickSize(0).tickPadding(22).tickFormat(d => String(d)));
  const yAxis = g.append('g')
    .attr('transform', `translate(${opts.left}, 0)`)
    .call(d3.axisLeft(y).tickValues(opts.yTicks).tickSize(0).tickPadding(26).tickFormat(d => String(d)));
  [xAxis, yAxis].forEach(a => {
    a.select('.domain').remove();
    a.selectAll('text')
      .style('font-size', '35px')
      .style('fill', '#4d4d4d')
      .style('font-family', '"Liberation Sans", Arial, Helvetica, sans-serif');
  });

  // points
  opts.layers.forEach(layer => {
    g.append('g').selectAll('circle')
      .data(layer.data)
      .enter()
      .append('circle')
      .attr('cx', d => x(d[0]))
      .attr('cy', d => y(d[1]))
      .attr('r', layer.r)
      .style('fill', opts.color)
      .style('fill-opacity', layer.opacity)
      .style('stroke', opts.color)
      .style('stroke-opacity', layer.opacity)
      .style('stroke-width', layer.opacity < 1 ? 2 : 0);
  });

  // smooth ribbon + line
  const fit = opts.fitYear.map((yr, i) => ({ yr, fit: opts.fit[i], lo: opts.lo[i], hi: opts.hi[i] }));
  const area = d3.area()
    .x(d => x(d.yr)).y0(d => y(d.lo)).y1(d => y(d.hi))
    .curve(d3.curveMonotoneX);
  const line = d3.line()
    .x(d => x(d.yr)).y(d => y(d.fit))
    .curve(d3.curveMonotoneX);
  g.append('path').datum(fit).attr('d', area)
    .style('fill', '#999999').style('fill-opacity', 0.4);
  g.append('path').datum(fit).attr('d', line)
    .style('fill', 'none').style('stroke', opts.lineColor).style('stroke-width', 8.5)
    .style('stroke-linejoin', 'round');

  // titles
  g.append('text')
    .attr('x', opts.left).attr('y', 159)
    .style('font-size', '55px').style('fill', '#000')
    .text(opts.title);
  g.append('text')
    .attr('x', (opts.left + opts.right) / 2).attr('y', 1743)
    .attr('text-anchor', 'middle')
    .style('font-size', '45px').style('fill', '#000')
    .text('Year');
  g.append('text')
    .attr('transform', `translate(${opts.yTitleX}, ${(plotTop + plotBottom) / 2}) rotate(-90)`)
    .attr('text-anchor', 'middle')
    .style('font-size', '45px').style('fill', '#000')
    .text(opts.yTitle);
}

// flatten the modern rows into [year, doy] pairs
const bloomModernPts = [];
bloomModern.concat(bloomModernCore, bloomModernEdge)
  .forEach(row => row.slice(1).forEach(v => bloomModernPts.push([row[0], v])));
const bloomAll = bloomHist.concat(bloomModernPts);
const tempAll = tempHist.concat(tempModern);

panel({
  left: 184, right: 1787,
  xExtent: d3.extent(bloomAll, d => d[0]),
  yExtent: d3.extent(bloomAll, d => d[1]),
  yTicks: doyTicks, yMinor: doyMinor,
  color: '#006400',
  layers: [
    { data: bloomHist, r: 7.3, opacity: 0.5 },
    { data: bloomModernPts, r: 7.3, opacity: 0.5 }
  ],
  fitYear: bloomFitYear, fit: bloomFit, lo: bloomLo, hi: bloomHi,
  lineColor: '#0000ff',
  title: 'Trend of Sakura Flowering Dates Over Time',
  yTitle: 'Day of Year (Flowering Date)',
  yTitleX: 80
});

panel({
  left: 1949, right: 3552,
  xExtent: d3.extent(tempAll, d => d[0]),
  yExtent: d3.extent(tempAll, d => d[1]),
  yTicks: tempTicks, yMinor: tempMinor,
  color: '#ff8c00',
  layers: [
    { data: tempHist, r: 7.7, opacity: 0.5 },
    { data: tempModern, r: 8.7, opacity: 1 }
  ],
  fitYear: tempFitYear, fit: tempFit, lo: tempLo, hi: tempHi,
  lineColor: '#ff0000',
  title: 'Trend of Average Temperatures Over Time',
  yTitle: 'Average Temperature (°C)',
  yTitleX: 1863
});
</script>
</body>
</html>
